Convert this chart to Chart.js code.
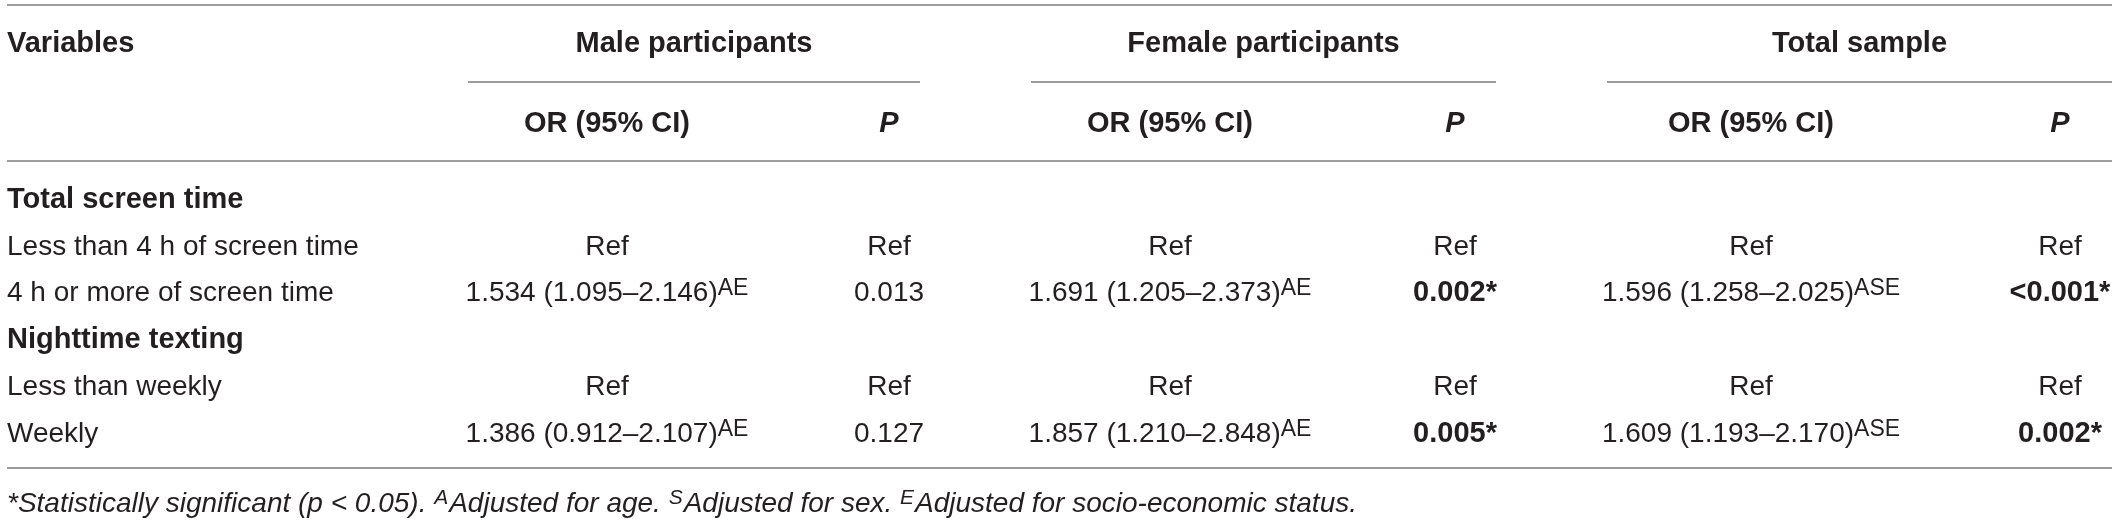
<!DOCTYPE html>
<html>
<head>
<meta charset="utf-8">
<script src="https://cdn.jsdelivr.net/npm/chart.js@4.4.1/dist/chart.umd.min.js"></script>
<style>
  html, body { margin: 0; padding: 0; background: #fff; }
  #wrap { width: 2118px; height: 520px; }
</style>
</head>
<body>
<div id="wrap"><canvas id="table"></canvas></div>
<script>
// Row labels
const factorNames = ['Total screen time', 'Nighttime texting'];
const levelNames = [
    ['Less than 4 h of screen time', '4 h or more of screen time'],
    ['Less than weekly', 'Weekly']
];
const groupNames = ['Male participants', 'Female participants', 'Total sample'];
const columnHeads = ['OR (95% CI)', 'P'];
const refLabel = 'Ref';

// Odds ratios of the second level vs the reference level, one entry per factor
const maleOR = [1.534, 1.386];
const maleLow = [1.095, 0.912];
const maleHigh = [2.146, 2.107];
const maleP = ['0.013', '0.127'];
const maleSig = [false, false];
const maleAdj = 'AE';

const femaleOR = [1.691, 1.857];
const femaleLow = [1.205, 1.210];
const femaleHigh = [2.373, 2.848];
const femaleP = ['0.002', '0.005'];
const femaleSig = [true, true];
const femaleAdj = 'AE';

const totalOR = [1.596, 1.609];
const totalLow = [1.258, 1.193];
const totalHigh = [2.025, 2.170];
const totalP = ['<0.001', '0.002'];
const totalSig = [true, true];
const totalAdj = 'ASE';

// Footnote, superscripts kept apart
const footnoteParts = [
    ['*Statistically significant (p < 0.05). ', 'A'],
    ['Adjusted for age. ', 'S'],
    ['Adjusted for sex. ', 'E'],
    ['Adjusted for socio-economic status.', '']
];

// ---- layout (pixel units of the x / y scales) ----
const colX = [7, 607, 889, 1170, 1455, 1751, 2060];
const groupSpan = [[468, 920], [1031, 1496], [1607, 2112]];
const rowY = { group: 52, head: 132, body: [208, 255, 301, 348, 395, 442], note: 512 };
const ruleY = { top: 5, group: 82, head: 161, bottom: 468 };

const FAMILY = '"Liberation Sans", Arial, sans-serif';
const INK = '#231f20';
const RULE = '#7d7d7d';
const F = {
    reg: '28px ' + FAMILY,
    bold: 'bold 29px ' + FAMILY,
    boldItalic: 'italic bold 29px ' + FAMILY,
    italic: 'italic 28px ' + FAMILY,
    sup: '23px ' + FAMILY,
    supItalic: 'italic 21px ' + FAMILY
};

function fmtOR(or, lo, hi) {
    return or.toFixed(3) + ' (' + lo.toFixed(3) + '\u2013' + hi.toFixed(3) + ')';
}

// Build the cells: every cell is a scatter point, the plugin writes its text
const cells = [];
function addCell(x, y, text, font, align, sup) {
    cells.push({ x: x, y: y, text: text, font: font, align: align || 'center', sup: sup || '' });
}

addCell(colX[0], rowY.group, 'Variables', F.bold, 'left');
groupNames.forEach((g, i) => {
    addCell((groupSpan[i][0] + groupSpan[i][1]) / 2, rowY.group, g, F.bold);
    addCell(colX[1 + i * 2], rowY.head, columnHeads[0], F.bold);
    addCell(colX[2 + i * 2], rowY.head, columnHeads[1], F.boldItalic);
});

const groups = [
    { or: maleOR, lo: maleLow, hi: maleHigh, p: maleP, sig: maleSig, adj: maleAdj },
    { or: femaleOR, lo: femaleLow, hi: femaleHigh, p: femaleP, sig: femaleSig, adj: femaleAdj },
    { or: totalOR, lo: totalLow, hi: totalHigh, p: totalP, sig: totalSig, adj: totalAdj }
];

let r = 0;
factorNames.forEach((name, f) => {
    addCell(colX[0], rowY.body[r++], name, F.bold, 'left');
    levelNames[f].forEach((lvl, k) => {
        const y = rowY.body[r++];
        addCell(colX[0], y, lvl, F.reg, 'left');
        groups.forEach((g, i) => {
            if (k === 0) {
                addCell(colX[1 + i * 2], y, refLabel, F.reg);
                addCell(colX[2 + i * 2], y, refLabel, F.reg);
            } else {
                addCell(colX[1 + i * 2], y, fmtOR(g.or[f], g.lo[f], g.hi[f]), F.reg, 'center', g.adj);
                addCell(colX[2 + i * 2], y, g.p[f] + (g.sig[f] ? '*' : ''), g.sig[f] ? F.bold : F.reg);
            }
        });
    });
});

function drawText(ctx, x, y, cell) {
    ctx.font = cell.font;
    const w = ctx.measureText(cell.text).width;
    let sw = 0;
    if (cell.sup) {
        ctx.font = F.sup;
        sw = ctx.measureText(cell.sup).width;
    }
    const x0 = cell.align === 'left' ? x : x - (w + sw) / 2;
    ctx.font = cell.font;
    ctx.fillText(cell.text, x0, y);
    if (cell.sup) {
        ctx.font = F.sup;
        ctx.fillText(cell.sup, x0 + w, y - 6);
    }
}

const tablePlugin = {
    id: 'tablePlugin',
    beforeDatasetsDraw(chart) {
        const { ctx, scales: { x, y } } = chart;
        ctx.save();
        ctx.strokeStyle = RULE;
        ctx.lineWidth = 1.5;
        const line = (x1, x2, yy) => {
            ctx.beginPath();
            ctx.moveTo(x.getPixelForValue(x1), y.getPixelForValue(yy));
            ctx.lineTo(x.getPixelForValue(x2), y.getPixelForValue(yy));
            ctx.stroke();
        };
        line(7, 2112, ruleY.top);
        groupSpan.forEach(s => line(s[0], s[1], ruleY.group));
        line(7, 2112, ruleY.head);
        line(7, 2112, ruleY.bottom);
        ctx.restore();
    },
    afterDatasetsDraw(chart) {
        const { ctx, scales: { x, y } } = chart;
        ctx.save();
        ctx.fillStyle = INK;
        ctx.textBaseline = 'alphabetic';
        ctx.textAlign = 'left';
        const meta = chart.getDatasetMeta(0);
        meta.data.forEach((pt, i) => drawText(ctx, pt.x, pt.y, cells[i]));

        // footnote
        let fx = x.getPixelForValue(colX[0]);
        const fy = y.getPixelForValue(rowY.note);
        footnoteParts.forEach(([txt, sup]) => {
            ctx.font = F.italic;
            ctx.fillText(txt, fx, fy);
            fx += ctx.measureText(txt).width;
            if (sup) {
                ctx.font = F.supItalic;
                ctx.fillText(sup, fx, fy - 8);
                fx += ctx.measureText(sup).width + 1;
            }
        });
        ctx.restore();
    }
};

new Chart(document.getElementById('table'), {
    type: 'scatter',
    data: {
        datasets: [{
            data: cells.map(c => ({ x: c.x, y: c.y })),
            pointRadius: 0,
            pointHoverRadius: 0
        }]
    },
    options: {
        responsive: true,
        maintainAspectRatio: false,
        animation: false,
        layout: { padding: 0 },
        plugins: { legend: { display: false }, tooltip: { enabled: false } },
        scales: {
            x: { type: 'linear', min: 0, max: 2118, display: false },
            y: { type: 'linear', min: 0, max: 520, reverse: true, display: false }
        }
    },
    plugins: [tablePlugin]
});
</script>
</body>
</html>
